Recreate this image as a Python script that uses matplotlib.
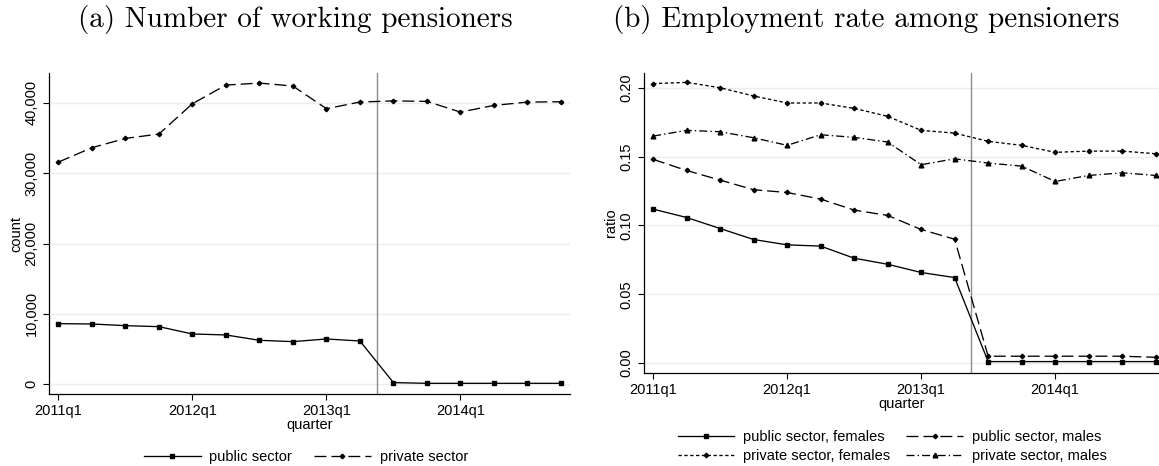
import matplotlib
matplotlib.use("Agg")
import matplotlib.pyplot as plt
from matplotlib.ticker import FuncFormatter

plt.rcParams['font.family'] = ['Liberation Sans', 'DejaVu Sans']
plt.rcParams['lines.scale_dashes'] = False

quarters = ["2011q1", "2011q2", "2011q3", "2011q4", "2012q1", "2012q2", "2012q3", "2012q4",
            "2013q1", "2013q2", "2013q3", "2013q4", "2014q1", "2014q2", "2014q3", "2014q4"]
tick_labels = ["2011q1", "2012q1", "2013q1", "2014q1"]

# (a) number of working pensioners
count_public = [8615, 8570, 8330, 8190, 7150, 7010, 6250, 6060, 6440, 6150,
                240, 140, 140, 140, 140, 140]
count_private = [31570, 33610, 34930, 35550, 39860, 42510, 42790, 42370, 39150, 40100,
                 40260, 40190, 38670, 39620, 40090, 40140]

# (b) employment rate among pensioners
rate_pub_f = [0.1119, 0.1058, 0.0978, 0.0898, 0.0859, 0.0850, 0.0762, 0.0718,
              0.0658, 0.0621, 0.0010, 0.0010, 0.0010, 0.0010, 0.0010, 0.0010]
rate_pub_m = [0.1481, 0.1400, 0.1330, 0.1260, 0.1240, 0.1192, 0.1112, 0.1073,
              0.0971, 0.0900, 0.0049, 0.0049, 0.0049, 0.0049, 0.0049, 0.0041]
rate_priv_f = [0.2032, 0.2041, 0.2002, 0.1942, 0.1891, 0.1891, 0.1852, 0.1794,
               0.1692, 0.1672, 0.1612, 0.1583, 0.1532, 0.1541, 0.1541, 0.1522]
rate_priv_m = [0.1650, 0.1692, 0.1682, 0.1638, 0.1583, 0.1660, 0.1641, 0.1607,
               0.1442, 0.1485, 0.1454, 0.1432, 0.1320, 0.1364, 0.1383, 0.1364]

reform = 9.5
x = list(range(len(quarters)))
tick_pos = [quarters.index(t) for t in tick_labels]

long_dash = (8.6, 3.6)
short_dash = (2.4, 1.8)
dash_dot = (5.8, 2.2, 1.0, 2.2)
grid_col = '#e6eef0'
lw = 0.95


def style_axes(ax):
    ax.spines['top'].set_visible(False)
    ax.spines['right'].set_visible(False)
    for s in ('left', 'bottom'):
        ax.spines[s].set_linewidth(0.9)
    ax.tick_params(direction='out', length=4, width=0.8, labelsize=10.5)
    ax.yaxis.grid(True, color=grid_col, linewidth=1.0)
    ax.set_axisbelow(True)
    for lab in ax.get_yticklabels():
        lab.set_rotation(90)
        lab.set_va('center')
    ax.set_xticks(tick_pos)
    ax.set_xticklabels(tick_labels)
    ax.set_xlabel('quarter', fontsize=10.5, labelpad=0)
    ax.axvline(reform, color='#8c8c8c', linewidth=1.0, zorder=1)


fig = plt.figure(figsize=(11.59, 4.66), dpi=100)
ax1 = fig.add_axes([0.0423, 0.1545, 0.4495, 0.6888])
ax2 = fig.add_axes([0.5557, 0.1996, 0.4443, 0.6437])

ax1.plot(x, count_public, color='black', lw=lw, marker='s', ms=3.4, label='public sector')
ax1.plot(x, count_private, color='black', lw=lw, marker='D', ms=2.3, dashes=long_dash,
         label='private sector')
ax1.set_xlim(-0.28, 15.27)
ax1.set_ylim(-1378, 44220)
ax1.set_yticks([0, 10000, 20000, 30000, 40000])
ax1.yaxis.set_major_formatter(FuncFormatter(lambda v, p: f"{int(v):,}"))
ax1.set_ylabel('count', fontsize=10.5, labelpad=1)
style_axes(ax1)
ax1.legend(loc='upper center', bbox_to_anchor=(0.493, -0.133), ncol=2, frameon=False,
           numpoints=1, handlelength=3.9, handletextpad=0.6, columnspacing=1.5,
           fontsize=10.5)

l_pf, = ax2.plot(x, rate_pub_f, color='black', lw=lw, marker='s', ms=3.4,
                 label='public sector, females')
l_pm, = ax2.plot(x, rate_pub_m, color='black', lw=lw, marker='D', ms=2.3, dashes=long_dash,
                 label='public sector, males')
l_vf, = ax2.plot(x, rate_priv_f, color='black', lw=lw, marker='D', ms=2.3, dashes=short_dash,
                 label='private sector, females')
l_vm, = ax2.plot(x, rate_priv_m, color='black', lw=lw, marker='^', ms=3.4, dashes=dash_dot,
                 label='private sector, males')
ax2.set_xlim(-0.27, 15.1)
ax2.set_ylim(-0.0073, 0.2109)
ax2.set_yticks([0.0, 0.05, 0.10, 0.15, 0.20])
ax2.yaxis.set_major_formatter(FuncFormatter(lambda v, p: f"{v:.2f}"))
ax2.set_ylabel('ratio', fontsize=10.5, labelpad=1)
style_axes(ax2)
handles = [l_pf, l_vf, l_pm, l_vm]
ax2.legend(handles, [h.get_label() for h in handles], loc='upper center',
           bbox_to_anchor=(0.482, -0.145), ncol=2, frameon=False,
           numpoints=1, handlelength=3.9, handletextpad=0.6, columnspacing=1.1,
           labelspacing=0.38, fontsize=10.5)

fig.text(295 / 1159, 1 - 19 / 466, '(a) Number of working pensioners', family='cmr10',
         fontsize=21, ha='center', va='center')
fig.text(866 / 1159, 1 - 19 / 466, '(b) Employment rate among pensioners', family='cmr10',
         fontsize=21, ha='center', va='center')

fig.savefig('out.png', dpi=100)
